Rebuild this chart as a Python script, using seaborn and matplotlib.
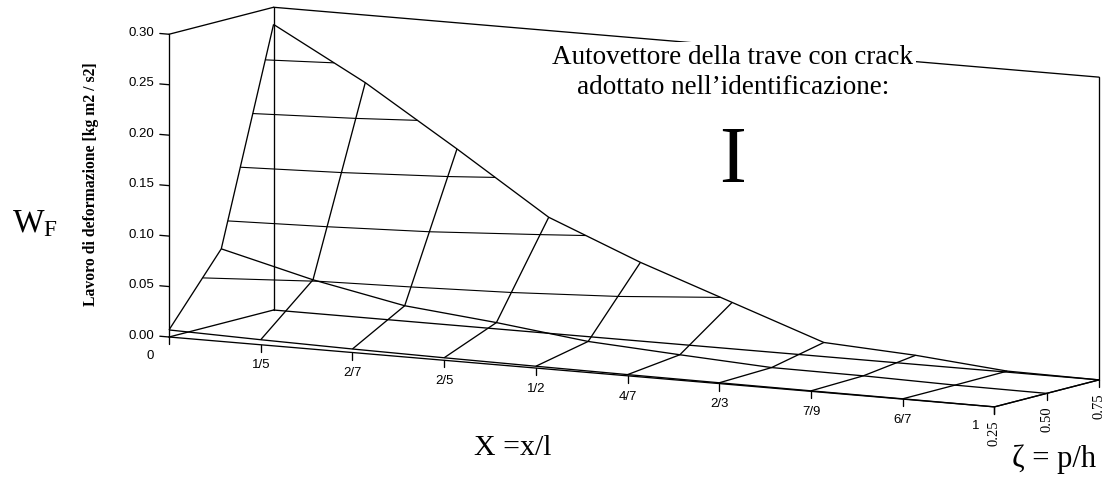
import matplotlib
matplotlib.use("Agg")
import warnings
import numpy as np
import matplotlib.pyplot as plt
import seaborn as sns
from mpl_toolkits.mplot3d import proj3d

# Crack positions along the beam (normalized abscissa) and relative crack depths
x_labels = ["0", "1/5", "2/7", "2/5", "1/2", "4/7", "2/3", "7/9", "6/7", "1"]
zeta_values = [0.25, 0.50, 0.75]
zeta_labels = ["0.25", "0.50", "0.75"]
z_ticks = [0.00, 0.05, 0.10, 0.15, 0.20, 0.25, 0.30]
z_labels = ["0.00", "0.05", "0.10", "0.15", "0.20", "0.25", "0.30"]
contour_levels = [0.05, 0.10, 0.15, 0.20, 0.25]

# Deformation work W_F [kg m2 / s2], one row per crack depth
wf_zeta_025 = [0.007, 0.005, 0.0035, 0.0025, 0.0018, 0.0012, 0.0008, 0.0005, 0.0003, 0.0]
wf_zeta_050 = [0.074, 0.051, 0.033, 0.024, 0.013, 0.0075, 0.0025, 0.002, 0.0005, 0.0]
wf_zeta_075 = [0.283, 0.233, 0.175, 0.115, 0.078, 0.046, 0.014, 0.009, 0.001, 0.0]

sns.set_theme(style="white")
plt.rcParams["font.family"] = ["Liberation Sans", "DejaVu Sans"]
plt.rcParams["mathtext.fontset"] = "custom"
plt.rcParams["mathtext.rm"] = "Liberation Serif"
plt.rcParams["mathtext.it"] = "Liberation Serif:italic"
SERIF = ["Liberation Serif", "DejaVu Serif"]
INK = "black"
LW = 0.95

W_PX, H_PX = 1109, 480
fig = plt.figure(figsize=(W_PX / 100, H_PX / 100), dpi=100, facecolor="white")
ax = fig.add_axes([0, 0, 1, 1], projection="3d", proj_type="ortho")
ax.set_axis_off()
ax.set_box_aspect((954, 211, 307))
ax.view_init(elev=8.5, azim=-60.2)

xi = np.arange(len(x_labels))
Xg, Zg = np.meshgrid(xi, zeta_values)
Wg = np.array([wf_zeta_025, wf_zeta_050, wf_zeta_075])

x0, x1 = xi[0], xi[-1]
y0, y1 = zeta_values[0], zeta_values[-1]
z0, z1 = z_ticks[0], z_ticks[-1]
ax.set_xlim(x0, x1)
ax.set_ylim(y0, y1)
ax.set_zlim(z0, z1)

# Surface mesh and its iso-W_F lines
ax.plot_wireframe(Xg, Zg, Wg, color=INK, linewidth=LW)
ax.contour(Xg, Zg, Wg, levels=contour_levels, colors=INK, linewidths=0.8)

# Open box: left wall, back wall and floor outline
edges = [
    ((x0, x0), (y0, y0), (z0, z1)),
    ((x0, x0), (y0, y1), (z1, z1)),
    ((x0, x0), (y1, y1), (z1, z0)),
    ((x0, x0), (y1, y0), (z0, z0)),
    ((x0, x1), (y1, y1), (z1, z1)),
    ((x1, x1), (y1, y1), (z1, z0)),
    ((x1, x0), (y1, y1), (z0, z0)),
    ((x0, x1), (y0, y0), (z0, z0)),
    ((x1, x1), (y0, y1), (z0, z0)),
]
for ex, ey, ez in edges:
    ax.plot(ex, ey, ez, color=INK, linewidth=LW)

# Tick marks: vertical axis (pointing left), abscissa and depth (pointing down)
for z in z_ticks:
    ax.plot([x0, x0 - 0.1], [y0, y0], [z, z], color=INK, linewidth=LW)
for i in xi:
    ax.plot([i, i], [y0, y0], [z0, z0 - 0.007], color=INK, linewidth=LW)
for zv in zeta_values:
    ax.plot([x1, x1], [zv, zv], [z0, z0 - 0.007], color=INK, linewidth=LW)

# Fit the projected box into the figure
def set_square(side, cx, cy):
    ax.set_position([(cx - side / 2) / W_PX, (cy - side / 2) / H_PX,
                     side / W_PX, side / H_PX])

def projected(x, y, z):
    with warnings.catch_warnings():
        warnings.simplefilter("ignore")
        px, py, _ = proj3d.proj_transform(x, y, z, ax.M)
    return float(px), float(py)

def to_display(x, y, z):
    return np.array(ax.transData.transform(projected(x, y, z)))

side0 = 800.0
c0 = np.array([W_PX / 2, H_PX / 2])
set_square(side0, *c0)
fig.canvas.draw()
a = to_display(x0, y0, z0)
r = to_display(x1, y1, z0)
k = (1099 - 169) / (r[0] - a[0])
a_scaled = c0 + k * (a - c0)
c1 = c0 + (np.array([169, H_PX - 337]) - a_scaled)
set_square(side0 * k, *c1)

# Tick labels, anchored at the projected 3D positions
for z, lab in zip(z_ticks, z_labels):
    ax.text2D(*projected(x0 - 0.16, y0, z), lab, ha="right", va="center",
              fontsize=9.5, color=INK)
for i, lab in zip(xi, x_labels):
    shift = -0.2 if i in (x0, x1) else 0.0
    ax.text2D(*projected(i + shift, y0, z0 - 0.0205), lab, ha="center",
              va="center", fontsize=9.5, color=INK)
for zv, lab in zip(zeta_values, zeta_labels):
    ax.text2D(*projected(x1, zv, z0 - 0.026), lab, rotation=90, ha="center",
              va="center", fontsize=10.5, family=SERIF, color=INK)

# Annotations
fig.text(12 / W_PX, 1 - 232 / H_PX, r"$\mathrm{W_F}$", fontsize=24,
         ha="left", va="baseline", color=INK)
fig.text(91 / W_PX, 1 - 184.5 / H_PX, "Lavoro di deformazione [kg m2 / s2]",
         rotation=90, ha="center", va="center", fontsize=11.3,
         fontweight="bold", family=SERIF, color=INK)
box = dict(facecolor="white", edgecolor="none", pad=2)
fig.text(733 / W_PX, 1 - 57 / H_PX, "Autovettore della trave con crack",
         ha="center", va="center", fontsize=19.5, family=SERIF, color=INK, bbox=box)
fig.text(733 / W_PX, 1 - 87 / H_PX, "adottato nell\u2019identificazione:",
         ha="center", va="center", fontsize=19.5, family=SERIF, color=INK, bbox=box)
fig.text(733 / W_PX, 1 - 162 / H_PX, "I", ha="center", va="center",
         fontsize=58, family=SERIF, color=INK)
fig.text(513 / W_PX, 1 - 455 / H_PX, "X =x/l", ha="center", va="baseline",
         fontsize=21.5, family=SERIF, color=INK)
fig.text(1054 / W_PX, 1 - 467 / H_PX, "\u03b6 = p/h", ha="center", va="baseline",
         fontsize=22, family=SERIF, color=INK)

fig.savefig("out.png", dpi=100, facecolor="white")
